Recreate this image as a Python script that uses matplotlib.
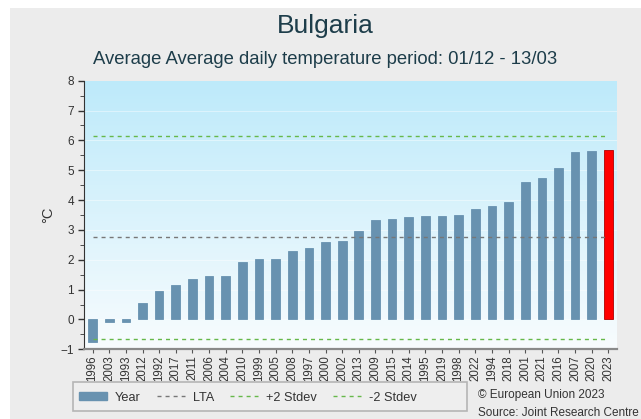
import numpy as np
import matplotlib
matplotlib.use("Agg")
import matplotlib.pyplot as plt
from matplotlib.patches import Patch, Rectangle
from matplotlib.lines import Line2D

plt.rcParams["font.family"] = ["Liberation Sans", "DejaVu Sans"]

# ---------------------------------------------------------------------
# data
# ---------------------------------------------------------------------
years = ["1996", "2003", "1993", "2012", "1992", "2017", "2011", "2006", "2004",
         "2010", "1999", "2005", "2008", "1997", "2000", "2002", "2013", "2009",
         "2015", "2014", "1995", "2019", "1998", "2022", "1994", "2018", "2001",
         "2021", "2016", "2007", "2020", "2023"]
temps = [-0.75, -0.07, -0.07, 0.56, 0.97, 1.15, 1.35, 1.44, 1.44,
         1.94, 2.04, 2.04, 2.29, 2.38, 2.60, 2.62, 2.96, 3.32,
         3.36, 3.42, 3.47, 3.47, 3.51, 3.71, 3.80, 3.92, 4.61,
         4.75, 5.06, 5.61, 5.63, 5.69]
highlight_year = "2023"
lta = 2.75
plus_2sd = 6.16
minus_2sd = -0.65

BAR = "#6892b0"
RED = "#ff0000"
TXT = "#333333"
GREEN = "#66b84a"
DASH = (0, (2.9, 2.9))

W, H = 641, 419
fig = plt.figure(figsize=(W / 100, H / 100), dpi=100)
fig.patch.set_facecolor("white")
# grey panel behind everything
fig.patches.append(Rectangle((10 / W, 0.0), 1.0, 1 - 8 / H,
                             transform=fig.transFigure, facecolor="#ececec",
                             edgecolor="none", zorder=-10))

ax = fig.add_axes([0.1315, 0.1663, 0.8306, 0.6411])
ax.set_facecolor("none")

x = np.arange(len(years))
ax.set_xlim(-0.5, len(years) - 0.5)
ax.set_ylim(-1, 8)

# sky gradient background
top = np.array([189, 234, 250]) / 255
bot = np.array([248, 252, 254]) / 255
t = np.linspace(0, 1, 256)[:, None]
grad = (top * (1 - t) + bot * t)[:, None, :]
ax.imshow(grad, extent=[-0.5, len(years) - 0.5, -1, 8], aspect="auto",
          zorder=0, origin="upper")

for yv in range(0, 8):
    ax.axhline(yv, color="white", lw=0.6, alpha=0.5, zorder=1)

colors = [RED if y == highlight_year else BAR for y in years]
edges = ["#b00000" if y == highlight_year else BAR for y in years]
ax.bar(x, temps, width=0.52, color=colors, edgecolor=edges, lw=0.6, zorder=3)

ax.plot([x[0], x[-1]], [lta, lta], ls=DASH, color="#777777", lw=1, zorder=4)
ax.plot([x[0], x[-1]], [plus_2sd, plus_2sd], ls=DASH, color=GREEN, lw=1, zorder=4)
ax.plot([x[0], x[-1]], [minus_2sd, minus_2sd], ls=DASH, color=GREEN, lw=1, zorder=4)

ax.set_xticks(x)
ax.set_xticklabels(years, rotation=90, fontsize=8.3, color=TXT)
ax.set_yticks(range(-1, 9))
ax.set_yticks(np.arange(-1, 8.01, 0.5), minor=True)
ax.tick_params(axis="y", labelsize=8.5, labelcolor=TXT, color="#333333",
               length=4, width=1)
ax.tick_params(axis="y", which="minor", length=3, color="#333333")
ax.tick_params(axis="x", length=3, color="#555555", pad=1.5)
for s in ("top", "right"):
    ax.spines[s].set_visible(False)
ax.spines["left"].set_color("#333333")
ax.spines["bottom"].set_color("#8a8a8a")
ax.spines["bottom"].set_linewidth(1.6)
ax.set_ylabel("°C", fontsize=10.5, color=TXT)
ax.yaxis.set_label_coords(-0.055, 0.5)

fig.text(325 / W, 1 - 26 / H, "Bulgaria", ha="center", va="center",
         fontsize=19, color="#1d3d4a")
fig.text(325 / W, 1 - 59 / H, "Average Average daily temperature period: 01/12 - 13/03",
         ha="center", va="center", fontsize=13.3, color="#1d3d4a")

# legend: frame drawn separately so the box can be wider than its entries
fig.patches.append(Rectangle((73 / W, 1 - 411 / H), 394 / W, 29 / H,
                             transform=fig.transFigure, facecolor="#eeeeee",
                             edgecolor="#b5b5b5", lw=1.2, zorder=1))
handles = [Patch(facecolor=BAR, edgecolor=BAR),
           Line2D([], [], ls=DASH, color="#777777", lw=1),
           Line2D([], [], ls=DASH, color=GREEN, lw=1),
           Line2D([], [], ls=DASH, color=GREEN, lw=1)]
leg = fig.legend(handles, ["Year", "LTA", "+2 Stdev", "-2 Stdev"], ncol=4,
                 loc="center left", bbox_to_anchor=(79 / W, 1 - 397.5 / H),
                 fontsize=9.2, frameon=False,
                 handlelength=2.2, handleheight=0.5, handletextpad=0.63,
                 borderaxespad=0, columnspacing=1.25, borderpad=0)
leg.set_zorder(5)
for txt in leg.get_texts():
    txt.set_color(TXT)

fig.text(478 / W, 1 - 394.5 / H, "© European Union 2023", fontsize=8.5,
         color=TXT, va="center")
fig.text(478 / W, 1 - 412.5 / H, "Source: Joint Research Centre", fontsize=8.5,
         color=TXT, va="center")

fig.savefig("out.png", dpi=100)
